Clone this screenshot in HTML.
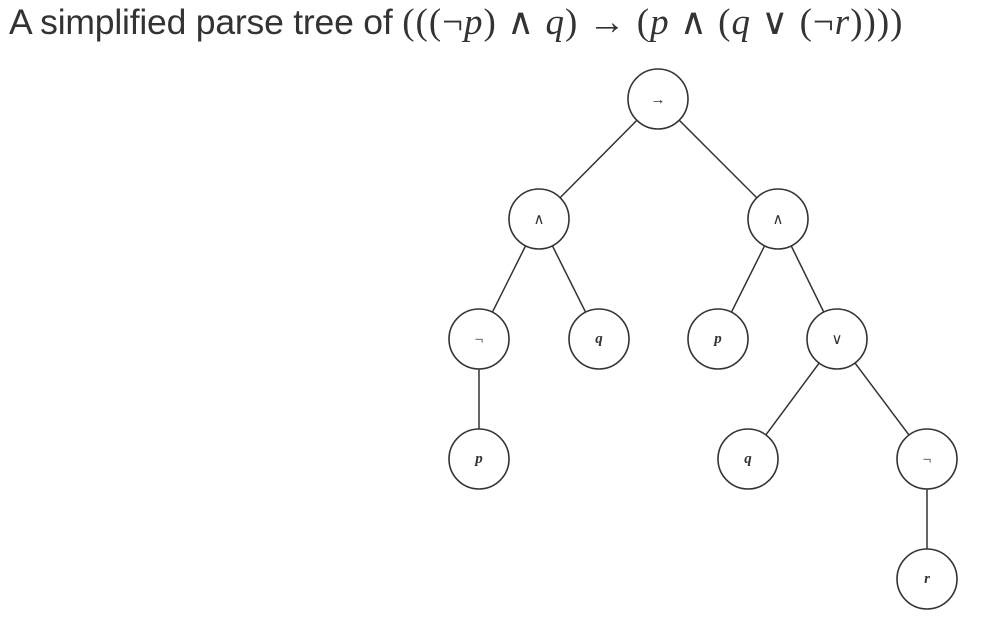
<!DOCTYPE html>
<html><head><meta charset="utf-8"><style>
html,body{margin:0;padding:0;background:#fff;width:1000px;height:644px;overflow:hidden}
.t{position:absolute;left:9px;top:0px;font-family:"Liberation Sans",sans-serif;font-size:35.5px;color:#333;white-space:nowrap;letter-spacing:-0.2px}
.m{font-family:"Liberation Serif",serif;font-size:37px;letter-spacing:1px;word-spacing:0px}
.m i{font-style:italic}
svg{position:absolute;left:0;top:0}
</style></head><body>
<div class="t">A simplified parse tree of <span class="m">(((¬<i>p</i>) ∧ <i>q</i>) → (<i>p</i> ∧ (<i>q</i> ∨ (¬<i>r</i>))))</span></div>
<svg width="1000" height="644" viewBox="0 0 1000 644">
<g stroke="#333" stroke-width="1.5">
<line x1="658" y1="99" x2="539" y2="219"/>
<line x1="658" y1="99" x2="778" y2="219"/>
<line x1="539" y1="219" x2="479" y2="339"/>
<line x1="539" y1="219" x2="599" y2="339"/>
<line x1="778" y1="219" x2="718" y2="339"/>
<line x1="778" y1="219" x2="837" y2="339"/>
<line x1="479" y1="339" x2="479" y2="459"/>
<line x1="837" y1="339" x2="748" y2="459"/>
<line x1="837" y1="339" x2="927" y2="459"/>
<line x1="927" y1="459" x2="927" y2="579"/>
</g>
<g fill="#fff" stroke="#333" stroke-width="1.6">
<circle cx="658" cy="99" r="30"/>
<circle cx="539" cy="219" r="30"/>
<circle cx="778" cy="219" r="30"/>
<circle cx="479" cy="339" r="30"/>
<circle cx="599" cy="339" r="30"/>
<circle cx="718" cy="339" r="30"/>
<circle cx="837" cy="339" r="30"/>
<circle cx="479" cy="459" r="30"/>
<circle cx="748" cy="459" r="30"/>
<circle cx="927" cy="459" r="30"/>
<circle cx="927" cy="579" r="30"/>
</g>
<g font-family="Liberation Serif, DejaVu Serif, serif" font-size="15" fill="#333" text-anchor="middle">
<text x="658" y="104">→</text>
<text x="539" y="224">∧</text>
<text x="778" y="224">∧</text>
<text x="479" y="344">¬</text>
<text x="599" y="343" font-style="italic" font-weight="bold">q</text>
<text x="718" y="343" font-style="italic" font-weight="bold">p</text>
<text x="837" y="344">∨</text>
<text x="479" y="463" font-style="italic" font-weight="bold">p</text>
<text x="748" y="463" font-style="italic" font-weight="bold">q</text>
<text x="927" y="464">¬</text>
<text x="927" y="583" font-style="italic" font-weight="bold">r</text>
</g>
</svg>
</body></html>
